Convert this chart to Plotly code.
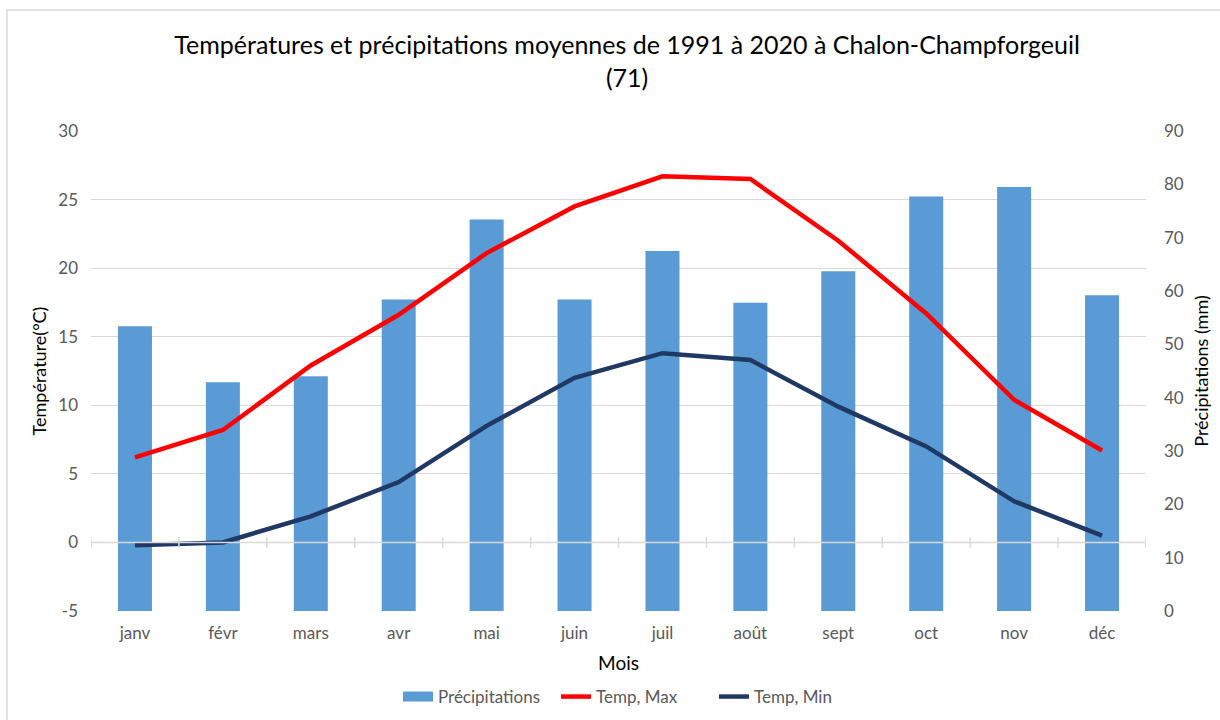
import plotly.graph_objects as go

# Monthly normals 1991-2020, Chalon-Champforgeuil
mois = ["janv", "févr", "mars", "avr", "mai", "juin",
        "juil", "août", "sept", "oct", "nov", "déc"]
precipitations = [53.4, 42.9, 44.0, 58.4, 73.4, 58.4,
                  67.5, 57.8, 63.7, 77.7, 79.5, 59.2]
temp_max = [6.2, 8.2, 12.9, 16.6, 21.1, 24.5,
            26.7, 26.5, 22.0, 16.7, 10.4, 6.7]
temp_min = [-0.2, 0.0, 1.9, 4.4, 8.5, 12.0,
            13.8, 13.3, 9.9, 7.0, 3.0, 0.5]

temp_ticks = [-5, 0, 5, 10, 15, 20, 25, 30]
temp_labels = ["-5", "0", "5", "10", "15", "20", "25", "30"]
precip_ticks = [0, 10, 20, 30, 40, 50, 60, 70, 80, 90]

FONT = "Lato"
GRID = "#d9d9d9"
TICK = "#595959"
BAR = "#5b9bd5"

W, H = 1220, 720
ML, MR, MT, MB = 91, 74, 131, 109
PW, PH = W - ML - MR, H - MT - MB

fig = go.Figure()

# legend swatch for the bars: a wide flat rectangle rather than a square
fig.add_trace(go.Scatter(
    x=[None], y=[None], name="Précipitations", mode="lines",
    line=dict(color=BAR, width=11), xaxis="x", yaxis="y",
))

# precipitation bars on the base axis (right side, 0-90 mm)
fig.add_trace(go.Bar(
    x=mois, y=precipitations, name="Précipitations", showlegend=False,
    marker=dict(color=BAR, line=dict(width=0)),
    xaxis="x", yaxis="y",
))

# temperature lines on the overlaid axis (left side, -5..30 °C)
fig.add_trace(go.Scatter(
    x=mois, y=temp_max, name="Temp, Max", mode="lines",
    line=dict(color="#ff0000", width=4.5),
    xaxis="x", yaxis="y2",
))
fig.add_trace(go.Scatter(
    x=mois, y=temp_min, name="Temp, Min", mode="lines",
    line=dict(color="#203864", width=4.5),
    xaxis="x", yaxis="y2",
))

shapes = []
# horizontal category axis crossing at 0 °C, with boundary ticks
shapes.append(dict(type="line", xref="paper", yref="y2", x0=0, x1=1, y0=0, y1=0,
                   line=dict(color=GRID, width=1.5), layer="above"))
for k in range(len(mois) + 1):
    shapes.append(dict(type="line", xref="x", yref="y2",
                       x0=k - 0.5, x1=k - 0.5, y0=-0.38, y1=0.38,
                       line=dict(color=GRID, width=1.5), layer="above"))
# chart-area frame
shapes.append(dict(type="rect", xref="paper", yref="paper",
                   x0=(7 - ML) / PW, x1=(W + 10 - ML) / PW,
                   y0=(H - MB - (H + 10)) / PH, y1=(H - MB - 10) / PH,
                   line=dict(color=GRID, width=1.5), fillcolor="rgba(0,0,0,0)",
                   layer="below"))

fig.update_layout(
    width=W, height=H,
    margin=dict(l=ML, r=MR, t=MT, b=MB, autoexpand=False),
    paper_bgcolor="white", plot_bgcolor="white",
    font=dict(family=FONT, size=17, color=TICK),
    title=dict(
        text="Températures et précipitations moyennes de 1991 à 2020 à Chalon-Champforgeuil<br>(71)",
        font=dict(family=FONT, size=25, color="#000000"),
        x=0.514, xanchor="center", xref="container",
        y=1 - 54 / H, yanchor="middle", yref="container",
    ),
    bargap=0.613,
    showlegend=True,
    legend=dict(orientation="h", x=(398 - ML) / PW, xanchor="left",
                y=(H - MB - 697) / PH, yanchor="middle",
                entrywidth=113, entrywidthmode="pixels",
                font=dict(family=FONT, size=17, color=TICK),
                traceorder="normal"),
    xaxis=dict(
        type="category", categoryorder="array", categoryarray=mois,
        range=[-0.5, len(mois) - 0.5], automargin=False,
        showgrid=False, showline=False, zeroline=False, ticks="",
        tickfont=dict(family=FONT, size=17, color=TICK),
        ticklabelstandoff=10,
        title=dict(text="Mois", font=dict(family=FONT, size=19, color="#000000"), standoff=14),
    ),
    yaxis=dict(
        side="right", range=[0, 90], tickvals=precip_ticks, automargin=False,
        showgrid=False, zeroline=False,
        showline=False, ticks="",
        tickfont=dict(family=FONT, size=17, color=TICK),
        ticklabelstandoff=17,
        title=dict(text="Précipitations (mm)", font=dict(family=FONT, size=18, color="#000000"), standoff=12),
    ),
    yaxis2=dict(
        overlaying="y", side="left", range=[-5, 30],
        tickvals=temp_ticks, ticktext=temp_labels, automargin=False,
        showgrid=True, gridcolor=GRID, gridwidth=1.3,
        zeroline=False, showline=False, ticks="",
        tickfont=dict(family=FONT, size=17, color=TICK),
        ticklabelstandoff=12,
        title=dict(text="Température(°C)", font=dict(family=FONT, size=18, color="#000000"), standoff=6),
    ),
    shapes=shapes,
)

fig.write_html("out.html")
